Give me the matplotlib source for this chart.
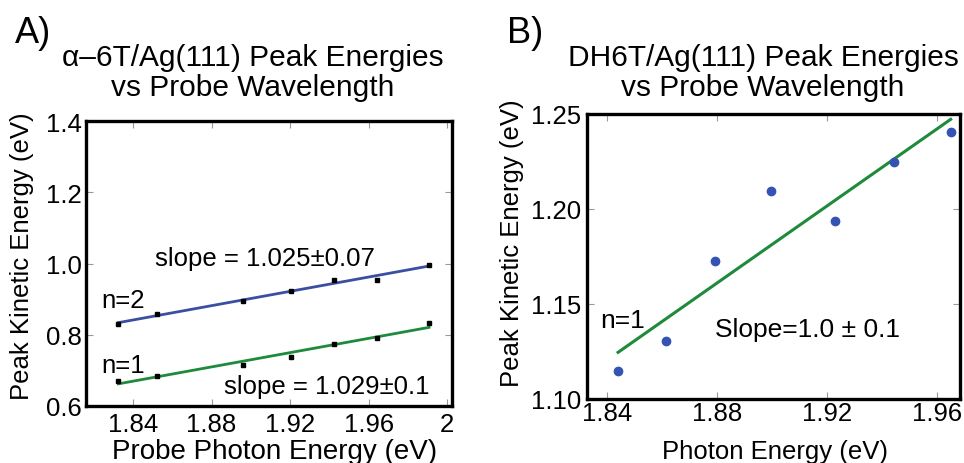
import matplotlib
matplotlib.use("Agg")
import matplotlib.pyplot as plt
import numpy as np

plt.rcParams["font.family"] = ["Liberation Sans", "DejaVu Sans"]

# Panel A: alpha-6T/Ag(111)
a_energy = [1.8325, 1.8524, 1.8962, 1.9205, 1.9426, 1.9645, 1.9908]
a_n2 = [0.830, 0.858, 0.896, 0.924, 0.954, 0.954, 0.996]
a_n1 = [0.671, 0.685, 0.716, 0.738, 0.774, 0.792, 0.832]
a_xticks = [1.84, 1.88, 1.92, 1.96, 2.0]
a_xticklabels = ["1.84", "1.88", "1.92", "1.96", "2"]
a_yticks = [0.6, 0.8, 1.0, 1.2, 1.4]

# Panel B: DH6T/Ag(111)
b_energy = [1.844, 1.8616, 1.8794, 1.8998, 1.923, 1.9443, 1.965]
b_peak = [1.1149, 1.1307, 1.1725, 1.2093, 1.1935, 1.2249, 1.2407]
b_xticks = [1.84, 1.88, 1.92, 1.96]
b_yticks = [1.10, 1.15, 1.20, 1.25]

BLUE = "#3a4fa3"
GREEN = "#1e8a3c"
DOT = "#3553b5"

W, H = 964, 464


def fx(px):
    return px / W


def fy(py):
    return 1 - py / H


def style_axes(ax, xpad, ypad):
    for sp in ax.spines.values():
        sp.set_linewidth(2.4)
    ax.tick_params(direction="in", length=5, width=0.8, color="#999999",
                   top=True, right=True, labelsize=18.5)
    ax.tick_params(axis="x", pad=xpad)
    ax.tick_params(axis="y", pad=ypad)


def fit_line(x, y):
    k, b = np.polyfit(x, y, 1)
    xs = np.array([min(x), max(x)])
    return xs, k * xs + b


fig = plt.figure(figsize=(9.64, 4.64), dpi=100)

# ---- Panel A ----
axA = fig.add_axes([fx(86), fy(407), fx(452 - 86), (407 - 122) / H])
xs, ys = fit_line(a_energy, a_n2)
axA.plot(xs, ys, color=BLUE, lw=2.0)
xs, ys = fit_line(a_energy, a_n1)
axA.plot(xs, ys, color=GREEN, lw=2.0)
axA.plot(a_energy, a_n2, "s", color="black", ms=3.5)
axA.plot(a_energy, a_n1, "s", color="black", ms=3.5)
axA.set_xlim(1.816, 2.0025)
axA.set_ylim(0.6, 1.4)
axA.set_xticks(a_xticks)
axA.set_xticklabels(a_xticklabels)
axA.set_yticks(a_yticks)
axA.set_yticklabels([f"{v:.1f}" for v in a_yticks])
style_axes(axA, 4, 3)
axA.text(1.8512, 1.015, "slope = 1.025±0.07", fontsize=18.5, va="center")
axA.text(1.8864, 0.656, "slope = 1.029±0.1", fontsize=18.5, va="center")
axA.text(1.824, 0.878, "n=2", fontsize=18.5, va="baseline")
axA.text(1.824, 0.6954, "n=1", fontsize=18.5, va="baseline")

# ---- Panel B ----
axB = fig.add_axes([fx(587), fy(400), fx(960 - 587), (400 - 115) / H])
xs, ys = fit_line(b_energy, b_peak)
axB.plot(xs, ys, color=GREEN, lw=2.2)
axB.plot(b_energy, b_peak, "o", color=DOT, ms=6)
axB.set_xlim(1.8327, 1.9684)
axB.set_ylim(1.10, 1.25)
axB.set_xticks(b_xticks)
axB.set_xticklabels([f"{v:.2f}" for v in b_xticks])
axB.set_yticks(b_yticks)
axB.set_yticklabels([f"{v:.2f}" for v in b_yticks])
style_axes(axB, 1.5, 4)
axB.text(1.8375, 1.1379, "n=1", fontsize=19, va="baseline")
axB.text(1.8793, 1.1332, "Slope=1.0 ± 0.1", fontsize=19, va="baseline")

# ---- titles, panel letters, axis labels ----
fig.text(fx(15), fy(43), "A)", fontsize=26, va="baseline")
fig.text(fx(507), fy(43), "B)", fontsize=26, va="baseline")

fig.text(fx(253), fy(66), "α–6T/Ag(111) Peak Energies", fontsize=21.5,
         ha="center", va="baseline")
fig.text(fx(253), fy(96), "vs Probe Wavelength", fontsize=21.5,
         ha="center", va="baseline")
fig.text(fx(763), fy(66), "DH6T/Ag(111) Peak Energies", fontsize=21.5,
         ha="center", va="baseline")
fig.text(fx(763), fy(96), "vs Probe Wavelength", fontsize=21.5,
         ha="center", va="baseline")

fig.text(fx(22), fy(256), "Peak Kinetic Energy (eV)", fontsize=18.5,
         rotation=90, ha="center", va="center")
fig.text(fx(512), fy(243), "Peak Kinetic Energy (eV)", fontsize=18.5,
         rotation=90, ha="center", va="center")
fig.text(fx(275), fy(459), "Probe Photon Energy (eV)", fontsize=20,
         ha="center", va="baseline")
fig.text(fx(775), fy(459), "Photon Energy (eV)", fontsize=18.5,
         ha="center", va="baseline")

fig.savefig("out.png", dpi=100)
